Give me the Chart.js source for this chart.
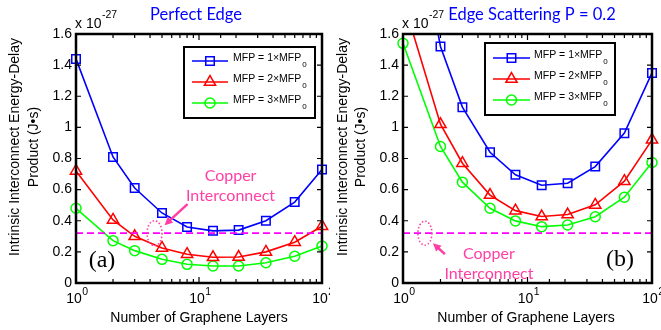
<!DOCTYPE html>
<html><head><meta charset="utf-8">
<script src="https://cdn.jsdelivr.net/npm/chart.js@4/dist/chart.umd.min.js"></script>
<style>
html,body{margin:0;padding:0;background:#fff;}
#wrap{position:relative;width:661px;height:330px;overflow:hidden;background:#fff;}
canvas{position:absolute;top:0;}
</style></head><body>
<div id="wrap">
<canvas id="ca" width="330" height="330" style="left:0"></canvas>
<canvas id="cb" width="331" height="330" style="left:330px"></canvas>
</div>
<script>
// ---- data ----
const layers = [1, 2, 3, 5, 8, 13, 21, 35, 60, 100];
const seriesLabels = ['MFP = 1×MFP', 'MFP = 2×MFP', 'MFP = 3×MFP'];
const labelSubscript = '0';
const perfectMfp1 = [1.44, 0.81, 0.61, 0.45, 0.36, 0.335, 0.34, 0.40, 0.52, 0.73];
const perfectMfp2 = [0.72, 0.405, 0.30, 0.225, 0.185, 0.165, 0.167, 0.20, 0.262, 0.365];
const perfectMfp3 = [0.48, 0.272, 0.208, 0.152, 0.12, 0.109, 0.109, 0.13, 0.172, 0.238];
const scatterMfp1 = [2.8, 1.52, 1.13, 0.84, 0.695, 0.628, 0.641, 0.748, 0.963, 1.35];
const scatterMfp2 = [1.82, 1.02, 0.77, 0.565, 0.465, 0.427, 0.44, 0.502, 0.654, 0.92];
const scatterMfp3 = [1.54, 0.877, 0.648, 0.48, 0.399, 0.362, 0.373, 0.426, 0.551, 0.774];
const copperEDP = 0.32;
const yTickValues = [0, 0.2, 0.4, 0.6, 0.8, 1, 1.2, 1.4, 1.6];
const xDecades = [1, 10, 100];
const xDecadeExponents = ['0', '1', '2'];
const panelTitles = ['Perfect Edge', 'Edge Scattering P = 0.2'];
const panelLetters = ['(a)', '(b)'];
const yTitleLines = ['Intrinsic Interconnect Energy-Delay', 'Product (J\u2022s)'];
const xTitle = 'Number of Graphene Layers';
const copperLabel = ['Copper', 'Interconnect'];
const multiplierText = ['x 10', '-27'];

const COLORS = ['#0000ff', '#ff0000', '#00ff00'];
const STYLES = ['rect', 'triangle', 'circle'];
const RADII = [6, 6.5, 5];
const PINK = '#ff3fa4';
const AXFONT = '"Liberation Sans", Arial, sans-serif';
const CALFONT = 'Lato, "Open Sans", sans-serif';

function mkDatasets(vals) {
  const ds = vals.map((v, i) => ({
    label: seriesLabels[i],
    data: layers.map((x, j) => ({x: x, y: v[j]})),
    borderColor: COLORS[i], borderWidth: 1.6,
    pointStyle: STYLES[i], pointRadius: RADII[i], pointBorderWidth: 1.5,
    pointBackgroundColor: 'rgba(0,0,0,0)', pointBorderColor: COLORS[i],
    tension: 0, clip: {left: 10, right: 10, top: 0, bottom: 10}, order: i + 1
  }));
  ds.push({
    label: 'Copper',
    data: [{x: xDecades[0], y: copperEDP}, {x: xDecades[2], y: copperEDP}],
    borderColor: '#ff00ff', borderWidth: 1.8, borderDash: [7, 4],
    pointRadius: 0, clip: 0, order: 0
  });
  return ds;
}

function drawSupText(ctx, base, sup, x, y, bSize, sSize, sRise, align) {
  ctx.font = bSize + 'px ' + AXFONT;
  const w1 = ctx.measureText(base).width;
  ctx.font = sSize + 'px ' + AXFONT;
  const w2 = ctx.measureText(sup).width;
  let sx = x;
  if (align === 'center') sx = x - (w1 + w2) / 2;
  ctx.textAlign = 'left'; ctx.textBaseline = 'alphabetic';
  ctx.font = bSize + 'px ' + AXFONT;
  ctx.fillText(base, sx, y);
  ctx.font = sSize + 'px ' + AXFONT;
  ctx.fillText(sup, sx + w1 + 0.5, y - sRise);
}

function decorPlugin(P) {
  return {
    id: 'decor' + P.idx,
    afterDraw(chart) {
      const ctx = chart.ctx;
      const a = chart.chartArea;
      const xs = chart.scales.x, ys = chart.scales.y;
      ctx.save();
      ctx.fillStyle = '#000'; ctx.strokeStyle = '#000';
      // frame
      ctx.lineWidth = 2.5;
      ctx.strokeRect(a.left, a.top, a.right - a.left, a.bottom - a.top);
      // inward ticks
      ctx.lineWidth = 1.2;
      ctx.beginPath();
      yTickValues.forEach(v => {
        const py = ys.getPixelForValue(v);
        ctx.moveTo(a.left, py); ctx.lineTo(a.left + 5, py);
        ctx.moveTo(a.right, py); ctx.lineTo(a.right - 5, py);
      });
      xs.ticks.forEach(t => {
        const px = xs.getPixelForValue(t.value);
        const major = xDecades.includes(t.value);
        const len = major ? 6 : 4;
        ctx.moveTo(px, a.bottom); ctx.lineTo(px, a.bottom - len);
        ctx.moveTo(px, a.top); ctx.lineTo(px, a.top + len);
      });
      ctx.stroke();
      // x tick labels (10^n)
      ctx.fillStyle = '#000';
      xDecades.forEach((v, i) => {
        const px = xs.getPixelForValue(v);
        drawSupText(ctx, '10', xDecadeExponents[i], px + 1, a.bottom + 20, 14, 10.5, 8, 'center');
      });
      // multiplier
      drawSupText(ctx, multiplierText[0], multiplierText[1], a.left - 1, a.top - 6, 14, 10.5, 10, 'left');
      // x title
      ctx.font = '14px ' + AXFONT; ctx.textAlign = 'center'; ctx.textBaseline = 'middle';
      ctx.fillText(xTitle, P.xTitleX, 318);
      // y title
      for (let k = 0; k < 2; k++) {
        ctx.save();
        ctx.font = '14px ' + AXFONT; ctx.textAlign = 'center'; ctx.textBaseline = 'middle';
        ctx.translate(P.yTitleX[k], 147); ctx.rotate(-Math.PI / 2);
        ctx.fillText(yTitleLines[k], 0, 0);
        ctx.restore();
      }
      // panel title
      ctx.fillStyle = '#0000ff';
      ctx.font = '16.5px ' + CALFONT; ctx.textAlign = 'center'; ctx.textBaseline = 'middle';
      ctx.fillText(panelTitles[P.idx], P.titleX, 15);
      // panel letter
      ctx.fillStyle = '#000';
      ctx.font = '24px "Liberation Serif", "Times New Roman", serif';
      ctx.fillText(panelLetters[P.idx], P.letter[0], P.letter[1]);
      // legend
      const L = P.legend;
      ctx.fillStyle = '#fff';
      ctx.fillRect(L.x0, L.y0, L.x1 - L.x0, L.y1 - L.y0);
      ctx.strokeStyle = '#000'; ctx.lineWidth = 2;
      ctx.strokeRect(L.x0, L.y0, L.x1 - L.x0, L.y1 - L.y0);
      chart.data.datasets.slice(0, 3).forEach((d, i) => {
        const ly = L.rows[i];
        ctx.strokeStyle = d.borderColor; ctx.lineWidth = 1.6; ctx.setLineDash([]);
        ctx.beginPath(); ctx.moveTo(L.s0, ly); ctx.lineTo(L.s1, ly); ctx.stroke();
        ctx.fillStyle = 'rgba(0,0,0,0)';
        ctx.lineWidth = 1.5;
        Chart.helpers.drawPoint(ctx, {pointStyle: d.pointStyle, radius: d.pointRadius, borderWidth: 1.5, rotation: 0}, (L.s0 + L.s1) / 2, ly);
        ctx.fillStyle = '#000';
        ctx.font = '10.5px ' + AXFONT; ctx.textAlign = 'left'; ctx.textBaseline = 'alphabetic';
        ctx.fillText(d.label, L.t0, ly);
        const w = ctx.measureText(d.label).width;
        ctx.font = '8px ' + AXFONT;
        ctx.fillText(labelSubscript, L.t0 + w + 1, ly + 6);
      });
      // copper annotation
      const cx = xs.getPixelForValue(P.ring[0]);
      const cy = ys.getPixelForValue(copperEDP);
      ctx.strokeStyle = PINK; ctx.fillStyle = PINK;
      ctx.lineWidth = 1.6; ctx.setLineDash([1.5, 2]);
      ctx.beginPath(); ctx.ellipse(cx, cy, P.ring[1], P.ring[2], 0, 0, Math.PI * 2); ctx.stroke();
      ctx.setLineDash([]);
      const ax0 = cx + P.arrow[0], ay0 = cy + P.arrow[1], ax1 = cx + P.arrow[2], ay1 = cy + P.arrow[3];
      const ang = Math.atan2(ay1 - ay0, ax1 - ax0);
      const hl = 8, hw = 4;
      ctx.lineWidth = 2.5;
      ctx.beginPath(); ctx.moveTo(ax0, ay0);
      ctx.lineTo(ax1 - Math.cos(ang) * hl * 0.8, ay1 - Math.sin(ang) * hl * 0.8); ctx.stroke();
      ctx.beginPath();
      ctx.moveTo(ax1, ay1);
      ctx.lineTo(ax1 - Math.cos(ang) * hl - Math.sin(ang) * hw, ay1 - Math.sin(ang) * hl + Math.cos(ang) * hw);
      ctx.lineTo(ax1 - Math.cos(ang) * hl + Math.sin(ang) * hw, ay1 - Math.sin(ang) * hl - Math.cos(ang) * hw);
      ctx.closePath(); ctx.fill();
      ctx.font = '16px ' + CALFONT; ctx.textAlign = 'center'; ctx.textBaseline = 'middle';
      ctx.fillText(copperLabel[0], cx + P.text[0], cy + P.text[1]);
      ctx.fillText(copperLabel[1], cx + P.text[0], cy + P.text[1] + 20);
      ctx.restore();
    }
  };
}

function makeChart(id, vals, P) {
  return new Chart(document.getElementById(id), {
    type: 'line',
    data: {datasets: mkDatasets(vals)},
    options: {
      responsive: false, animation: false, devicePixelRatio: 1,
      layout: {padding: {left: 0, right: P.padRight, top: 34, bottom: 0}},
      plugins: {legend: {display: false}, tooltip: {enabled: false}},
      scales: {
        x: {type: 'logarithmic', min: xDecades[0], max: xDecades[2],
            grid: {display: false, drawTicks: false}, border: {display: false},
            ticks: {display: false}, afterFit: s => { s.height = 47; }},
        y: {type: 'linear', min: 0, max: 1.6,
            grid: {display: false, drawTicks: false}, border: {display: false},
            afterBuildTicks: s => { s.ticks = yTickValues.map(v => ({value: v})); },
            ticks: {padding: 4, color: '#000', font: {family: AXFONT, size: 14},
                    callback: v => String(+(+v).toFixed(1))},
            afterFit: s => { s.width = P.yWidth; }}
      }
    },
    plugins: [decorPlugin(P)]
  });
}

makeChart('ca', [perfectMfp1, perfectMfp2, perfectMfp3], {
  idx: 0, padRight: 6, yWidth: 76, xTitleX: 199, yTitleX: [15, 34], titleX: 196,
  letter: [102, 261],
  legend: {x0: 184, y0: 47, x1: 315, y1: 118, rows: [61, 82, 103], s0: 192, s1: 228, t0: 233},
  ring: [4.35, 7.5, 12.5], arrow: [33, -29, 10, -8], text: [76, -57]
});
makeChart('cb', [scatterMfp1, scatterMfp2, scatterMfp3], {
  idx: 1, padRight: 9, yWidth: 73, xTitleX: 196, yTitleX: [13, 31], titleX: 202,
  letter: [290, 260],
  legend: {x0: 155, y0: 43, x1: 285, y1: 115, rows: [58, 79, 100], s0: 163, s1: 200, t0: 204},
  ring: [1.5, 7, 12], arrow: [20, 21, 8, 10], text: [64, 21]
});
</script>
</body></html>
